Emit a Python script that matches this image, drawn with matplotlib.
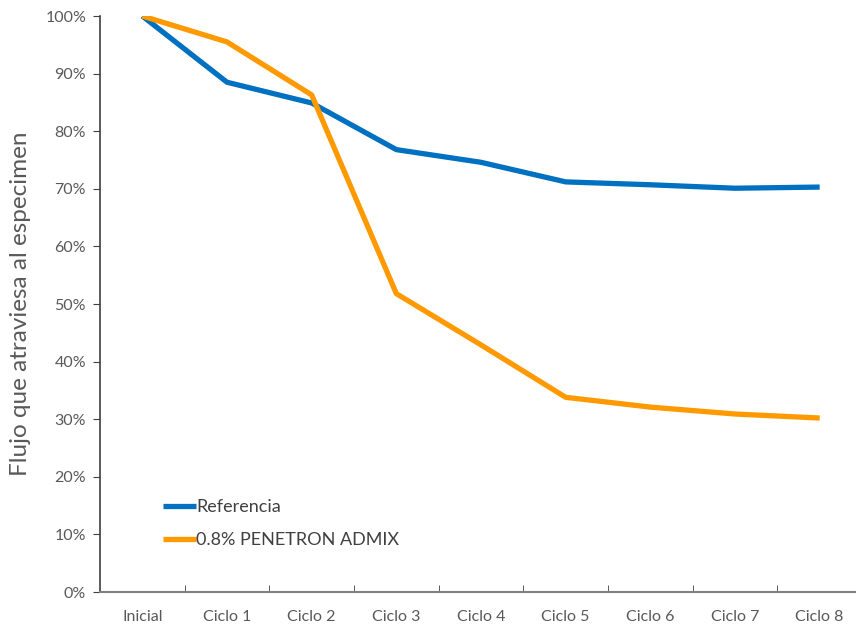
import matplotlib.pyplot as plt
from matplotlib.ticker import PercentFormatter

plt.rcParams['font.family'] = ['Lato', 'DejaVu Sans']

ciclos = ["Inicial", "Ciclo 1", "Ciclo 2", "Ciclo 3", "Ciclo 4",
          "Ciclo 5", "Ciclo 6", "Ciclo 7", "Ciclo 8"]
referencia = [100, 88.5, 84.9, 76.8, 74.6, 71.2, 70.7, 70.1, 70.3]
penetron = [100, 95.5, 86.3, 51.8, 42.9, 33.8, 32.1, 30.9, 30.2]

fig = plt.figure(figsize=(8.56, 6.27), dpi=100)
ax = fig.add_axes([100/856, 1-592/627, 762/856, 576/627])

x = range(len(ciclos))
ax.plot(x, referencia, color='#0070C0', lw=3.8, label='Referencia', solid_capstyle='butt')
ax.plot(x, penetron, color='#FF9900', lw=3.8, label='0.8% PENETRON ADMIX', solid_capstyle='butt')

ax.set_xlim(-0.5, len(ciclos) - 0.5)
ax.set_ylim(0, 100)
ax.set_yticks(range(0, 101, 10))
ax.yaxis.set_major_formatter(PercentFormatter(decimals=0))
ax.set_xticks(list(x))
ax.set_xticklabels(ciclos)
ax.set_xticks([i + 0.5 for i in range(len(ciclos) - 1)], minor=True)
ax.tick_params(axis='x', which='major', length=0, pad=13, labelsize=11.5, labelcolor='#595959')
ax.tick_params(axis='x', which='minor', direction='in', length=5, color='#404040')
ax.tick_params(axis='y', direction='out', length=5, color='#404040', labelsize=11.5,
               labelcolor='#595959', pad=5)

for s in ['top', 'right']:
    ax.spines[s].set_visible(False)
ax.spines['left'].set_color('#404040')
ax.spines['bottom'].set_color('#808080')
ax.spines['left'].set_linewidth(1.2)
ax.spines['bottom'].set_linewidth(1.5)

ax.set_ylabel("Flujo que atraviesa al especimen", fontsize=17.5, color='#595959', labelpad=10)

ax.legend(loc='lower left', bbox_to_anchor=(0.062, 0.048), frameon=False, fontsize=13,
          handlelength=1.8, handletextpad=0.0, labelspacing=0.95, labelcolor='#404040')

fig.savefig("out.png", dpi=100)
